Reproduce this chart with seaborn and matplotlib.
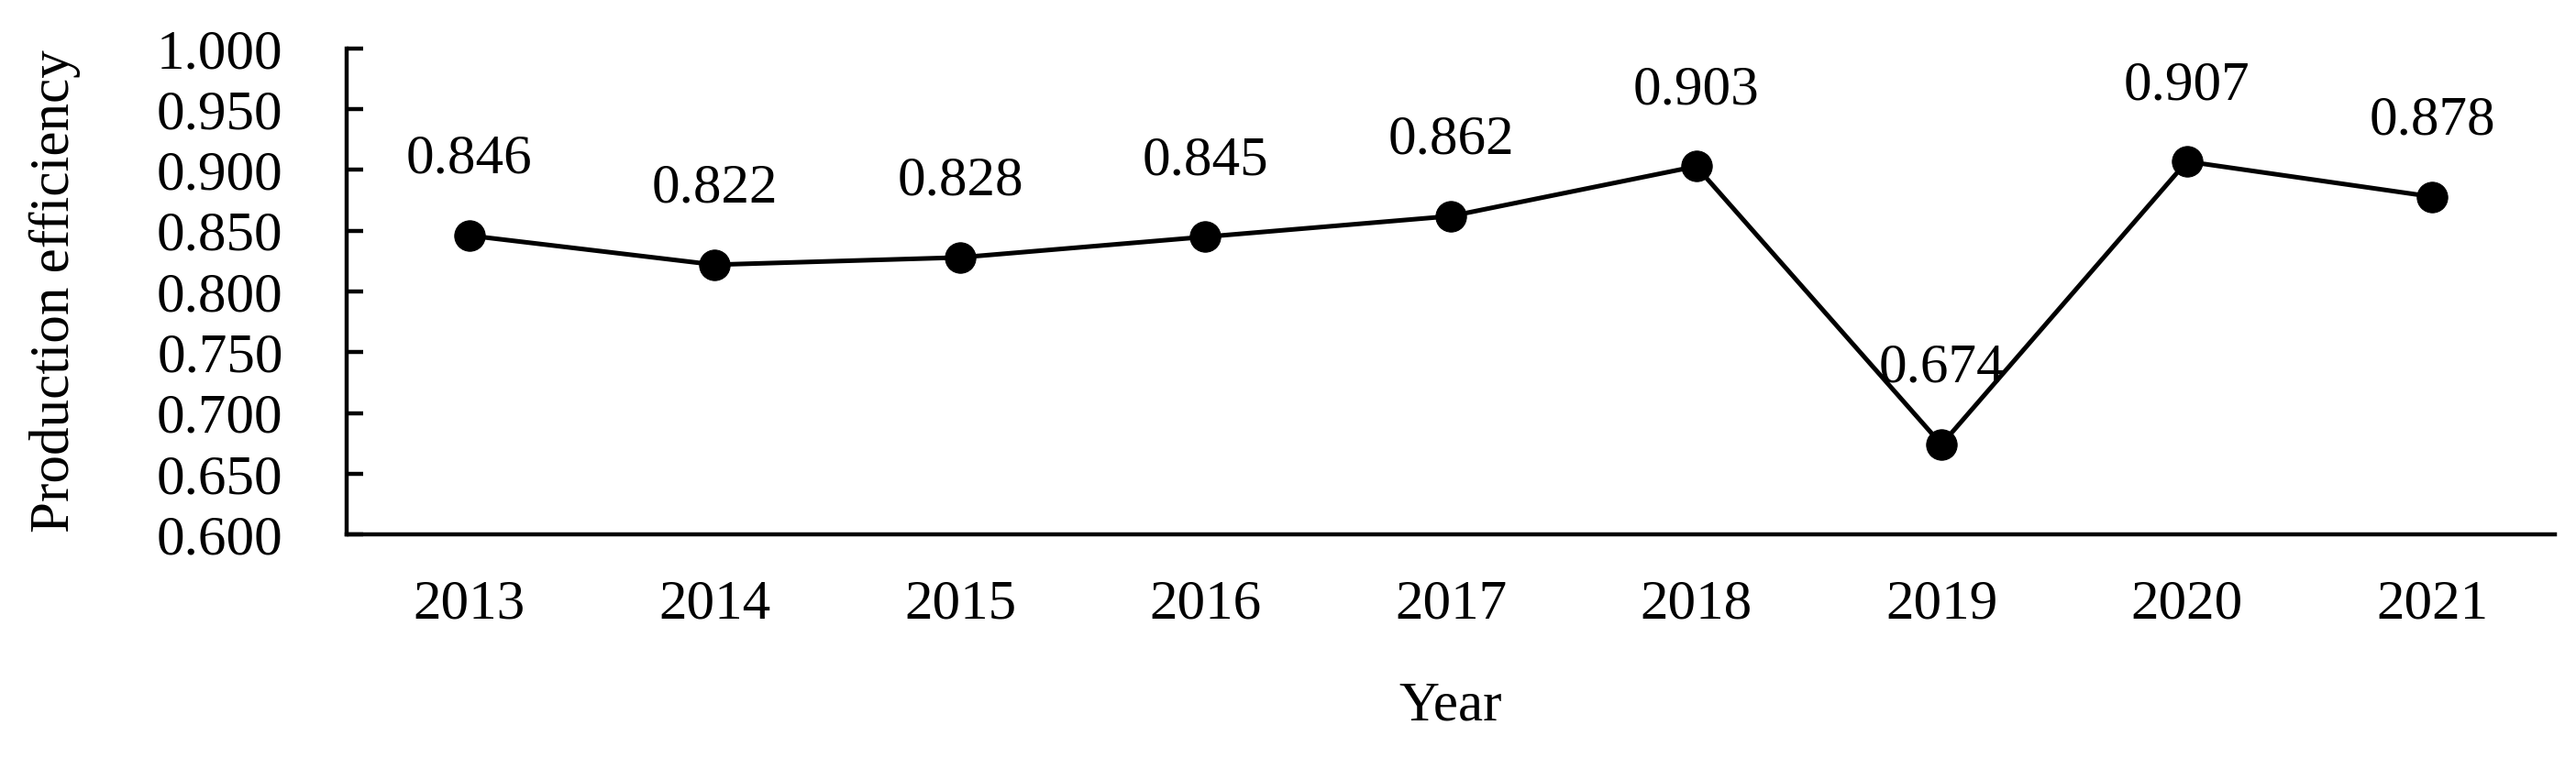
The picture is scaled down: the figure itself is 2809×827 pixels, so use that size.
import matplotlib
matplotlib.use("Agg")
import matplotlib.pyplot as plt
import seaborn as sns
import pandas as pd
from matplotlib.ticker import FormatStrFormatter, MultipleLocator

# production efficiency by year
years = ["2013", "2014", "2015", "2016", "2017", "2018", "2019", "2020", "2021"]
efficiency = [0.846, 0.822, 0.828, 0.845, 0.862, 0.903, 0.674, 0.907, 0.878]

sns.set_style("white")
plt.rcParams['font.family'] = ['Liberation Serif', 'DejaVu Serif']
plt.rcParams.update({
    'text.color': 'black',
    'axes.labelcolor': 'black',
    'xtick.color': 'black',
    'ytick.color': 'black',
    'ytick.left': True,
})

df = pd.DataFrame({'Year': years, 'Efficiency': efficiency})

fig = plt.figure(figsize=(28.09, 8.27), dpi=100)
ax = fig.add_axes([0.1346, 0.295, 0.8572, 0.641])

sns.lineplot(data=df, x='Year', y='Efficiency', ax=ax, color='black',
             linewidth=3.6, marker='o', markersize=24, markeredgecolor='black',
             sort=False)

# value labels above each point
for i, v in enumerate(efficiency):
    ax.annotate(f"{v:.3f}", xy=(i, v), xytext=(0, 49), textcoords='offset points',
                ha='center', va='baseline', fontsize=44)

ax.set_xlim(-0.5, len(years) - 0.5)
ax.set_ylim(0.6, 1.0)
ax.yaxis.set_major_locator(MultipleLocator(0.05))
ax.yaxis.set_major_formatter(FormatStrFormatter('%.3f'))

for side in ['top', 'right']:
    ax.spines[side].set_visible(False)
for side in ['left', 'bottom']:
    ax.spines[side].set_color('black')
    ax.spines[side].set_linewidth(3.2)

ax.tick_params(axis='y', left=True, direction='in', length=13, width=3.2, pad=50,
               labelsize=44)
ax.tick_params(axis='x', length=0, pad=35, labelsize=44)

ax.set_xlabel('Year', fontsize=44, labelpad=40)
ax.set_ylabel('Production efficiency', fontsize=44, labelpad=60)

fig.savefig('out.png', dpi=100)
